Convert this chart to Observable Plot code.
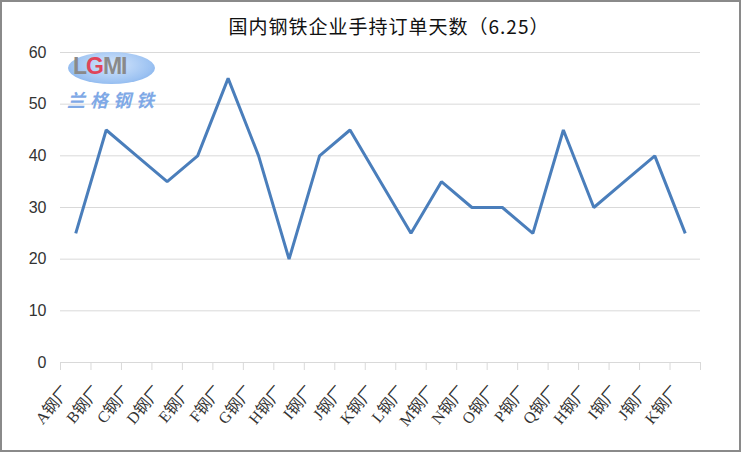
<!DOCTYPE html>
<html>
<head>
<meta charset="utf-8">
<script src="https://cdn.jsdelivr.net/npm/d3@7"></script>
<script src="https://cdn.jsdelivr.net/npm/@observablehq/plot@0.6"></script>
<style>
  html, body { margin: 0; padding: 0; background: #fff; }
  #wrap { position: relative; width: 743px; height: 453px; overflow: hidden; }
  #frame { position: absolute; left: 0; top: 0; width: 737px; height: 448px; border: 2px solid #8a8a8a; pointer-events: none; }
  #title { position: absolute; left: 0; width: 778px; top: 12px; text-align: center;
           font-family: "Noto Sans CJK SC", serif; font-size: 19px; color: #111; letter-spacing: 1px; }
  #chart { position: absolute; left: 0; top: 0; }
  #logo { position: absolute; left: 66px; top: 50px; width: 92px; height: 60px; }
  #logo .ell { position: absolute; left: 2px; top: 2px; width: 87px; height: 32px; border-radius: 50%;
               background: radial-gradient(ellipse at 50% 40%, #d6e7fc 0%, #9cc2f2 65%, #6fa2e6 100%); }
  #logo .lg { position: absolute; left: 7px; top: 3px; font-family: "Liberation Sans", sans-serif; font-weight: bold;
              font-size: 23px; color: #8a8a8a; letter-spacing: -1px; }
  #logo .lg b { color: #e0455a; }
  #logo .cn { position: absolute; left: 1px; top: 36px; font-family: "Noto Sans CJK SC", sans-serif; font-style: italic;
              font-weight: bold; font-size: 18px; color: #7fa9e6; letter-spacing: 5px; white-space: nowrap; }
</style>
</head>
<body>
<div id="wrap">
  <div id="chart"></div>
  <div id="logo"><div class="ell"></div><div class="lg">L<b>G</b>MI</div><div class="cn">兰格钢铁</div></div>
  <div id="title">国内钢铁企业手持订单天数（6.25）</div>
  <div id="frame"></div>
</div>
<script>
const categories = ["A钢厂","B钢厂","C钢厂","D钢厂","E钢厂","F钢厂","G钢厂","H钢厂","I钢厂","J钢厂","K钢厂","L钢厂","M钢厂","N钢厂","O钢厂","P钢厂","Q钢厂","H钢厂","I钢厂","J钢厂","K钢厂"];
const values = [25,45,40,35,40,55,40,20,40,45,35,25,35,30,30,25,45,30,35,40,25];
const yTicks = [0,10,20,30,40,50,60];

const data = categories.map((c, i) => ({i, name: c, value: values[i]}));
const n = categories.length;
const edges = d3.range(n + 1);
const centers = d3.range(n).map(i => i + 0.5);

const chart = Plot.plot({
  width: 743,
  height: 453,
  marginTop: 52,
  marginBottom: 91,
  marginLeft: 60,
  marginRight: 43,
  x: {domain: [0, n], axis: null},
  y: {domain: [0, 60], axis: null},
  marks: [
    Plot.gridY(yTicks.filter(d => d > 0), {stroke: "#d9d9d9", strokeOpacity: 1, strokeWidth: 1}),
    Plot.ruleY([0], {stroke: "#d9d9d9", strokeWidth: 1}),
    Plot.axisY({ticks: yTicks, label: null, tickSize: 0, tickPadding: 14, fontSize: 16,
      fontFamily: "'Liberation Sans Narrow', 'Liberation Sans', sans-serif", fill: "#333"}),
    Plot.axisX({ticks: edges, label: null, tickFormat: () => "", tickSize: 8, stroke: "#d9d9d9", strokeOpacity: 1}),
    Plot.axisX({ticks: centers, label: null, tickSize: 0, tickPadding: 18, tickRotate: -50,
      tickFormat: d => categories[Math.floor(d)], fontSize: 16, dx: -9, dy: 8,
      fontFamily: "'Liberation Serif', 'Noto Sans CJK SC', serif", fill: "#333"}),
    Plot.line(data, {x: d => d.i + 0.5, y: "value", stroke: "#4a7ebb", strokeWidth: 3, strokeLinejoin: "miter", strokeLinecap: "butt"})
  ]
});
document.getElementById("chart").appendChild(chart);
</script>
</body>
</html>
